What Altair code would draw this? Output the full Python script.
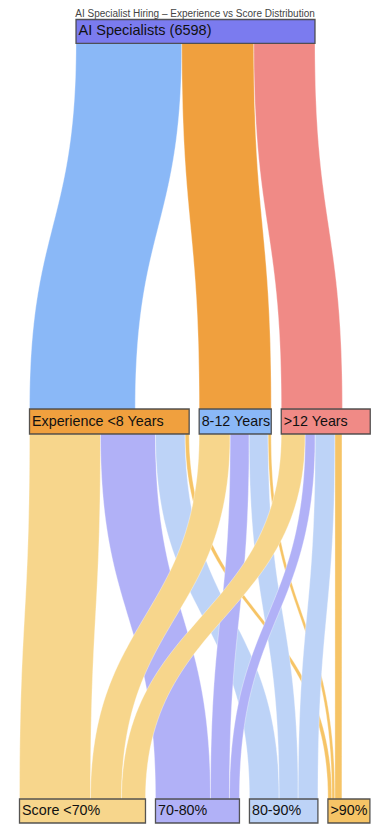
import altair as alt
import pandas as pd
import numpy as np

# ---------------- data ----------------
title = "AI Specialist Hiring – Experience vs Score Distribution"
root_label = "AI Specialists (6598)"
root_total = 6598
exp_groups = ["Experience <8 Years", "8-12 Years", ">12 Years"]
score_groups = ["Score <70%", "70-80%", "80-90%", ">90%"]
root_to_exp = [2920, 1990, 1688]
lt8_to_score = [1960, 1518, 820, 110]
mid_to_score = [856, 524, 525, 83]
gt12_to_score = [662, 276, 545, 193]
exp_to_score = [lt8_to_score, mid_to_score, gt12_to_score]

root_color = "#7b7bef"
top_link_colors = ["#8ab8f7", "#f0a03e", "#f08a86"]
exp_node_colors = ["#f0a03e", "#8ab8f7", "#f08a86"]
score_colors = ["#f7d68c", "#b1b1f7", "#bdd3f7", "#f6c466"]

# ---------------- layout constants ----------------
W, H = 374, 821
K = 239 / root_total          # px per person
GAP = 10 / K
ROW_START = [68 / K, 21.5 / K, 11.5 / K]
ROW_Y = [(11.5, 35.3), (401.0, 426.0), (791.0, 815.0)]
BOX_MIN = {">12 Years": 89 / K, ">90%": 42 / K}
PAD = 2.5 / K

nodes = []
root_x0 = ROW_START[0]
nodes.append(dict(name=root_label, x=root_x0, x2=root_x0 + root_total,
                  y=ROW_Y[0][0], y2=ROW_Y[0][1], fill=root_color, fs=14.5))
exp_x = []
cur = ROW_START[1]
for i, g in enumerate(exp_groups):
    w = max(root_to_exp[i], sum(exp_to_score[i]), BOX_MIN.get(g, 0))
    exp_x.append(cur)
    nodes.append(dict(name=g, x=cur, x2=cur + w, y=ROW_Y[1][0], y2=ROW_Y[1][1],
                      fill=exp_node_colors[i], fs=14.3))
    cur += w + GAP
score_x = []
cur = ROW_START[2]
for j, g in enumerate(score_groups):
    inflow = sum(exp_to_score[i][j] for i in range(len(exp_groups)))
    w = max(inflow, BOX_MIN.get(g, 0))
    score_x.append(cur)
    nodes.append(dict(name=g, x=cur, x2=cur + w, y=ROW_Y[2][0], y2=ROW_Y[2][1],
                      fill=score_colors[j], fs=14.3))
    cur += w + GAP
nodes_df = pd.DataFrame(nodes)
nodes_df["tx"] = nodes_df["x"] + PAD
nodes_df["ty"] = (nodes_df["y"] + nodes_df["y2"]) / 2

# links as closed bezier bands (polygons)
ts = np.linspace(0, 1, 60)


def band(lid, xa0, xa1, ya, xb0, xb1, yb, color):
    ym = (ya + yb) / 2
    b0 = (1 - ts) ** 3
    b1 = 3 * (1 - ts) ** 2 * ts
    b2 = 3 * (1 - ts) * ts ** 2
    b3 = ts ** 3
    yy = ya * b0 + ym * b1 + ym * b2 + yb * b3
    xl = xa0 * (b0 + b1) + xb0 * (b2 + b3)
    xr = xa1 * (b0 + b1) + xb1 * (b2 + b3)
    px = np.concatenate([xl, xr[::-1], xl[:1]])
    py = np.concatenate([yy, yy[::-1], yy[:1]])
    return pd.DataFrame(dict(link=lid, i=np.arange(len(px)), px=px, py=py, color=color))


parts = []
n = 0
off = root_x0
for i, v in enumerate(root_to_exp):
    parts.append(band(f"L{n:02d}", off, off + v, ROW_Y[0][1],
                      exp_x[i], exp_x[i] + v, ROW_Y[1][0], top_link_colors[i]))
    off += v
    n += 1
tgt_off = list(score_x)
for i in range(len(exp_groups)):
    src = exp_x[i]
    for j, v in enumerate(exp_to_score[i]):
        parts.append(band(f"L{n:02d}", src, src + v, ROW_Y[1][1],
                          tgt_off[j], tgt_off[j] + v, ROW_Y[2][0], score_colors[j]))
        src += v
        tgt_off[j] += v
        n += 1
links_df = pd.concat(parts, ignore_index=True)

xscale = alt.Scale(domain=[0, W / K], nice=False, zero=False)
yscale = alt.Scale(domain=[0, H], reverse=True, nice=False, zero=False)

links = alt.Chart(links_df).mark_line(
    filled=True, stroke="white", strokeWidth=0.5, strokeOpacity=0.7
).encode(
    x=alt.X("px:Q", scale=xscale, axis=None),
    y=alt.Y("py:Q", scale=yscale, axis=None),
    fill=alt.Fill("color:N", scale=None),
    detail="link:N",
    order=alt.Order("i:Q"),
)

boxes = alt.Chart(nodes_df).mark_rect(stroke="#444444", strokeWidth=1.3, strokeOpacity=0.9).encode(
    x=alt.X("x:Q", scale=xscale, axis=None),
    x2="x2:Q",
    y=alt.Y("y:Q", scale=yscale, axis=None),
    y2="y2:Q",
    color=alt.Color("fill:N", scale=None),
)

labels = alt.Chart(nodes_df).mark_text(
    align="left", baseline="middle", font="Liberation Sans", color="#111111"
).encode(
    x=alt.X("tx:Q", scale=xscale, axis=None),
    y=alt.Y("ty:Q", scale=yscale, axis=None),
    text="name:N",
    size=alt.Size("fs:Q", scale=None),
)

title_df = pd.DataFrame(dict(text=[title], x=[187 / K], y=[6.0]))
title_mark = alt.Chart(title_df).mark_text(
    align="center", baseline="middle", font="Liberation Sans", fontSize=10, color="#444444"
).encode(
    x=alt.X("x:Q", scale=xscale, axis=None),
    y=alt.Y("y:Q", scale=yscale, axis=None),
    text="text:N",
)

chart = alt.layer(links, boxes, labels, title_mark).properties(
    width=W, height=H, padding=0, autosize=alt.AutoSizeParams(type="none")
).configure_view(stroke=None)

chart.save("out.html", embed_options={"renderer": "svg", "actions": False})
